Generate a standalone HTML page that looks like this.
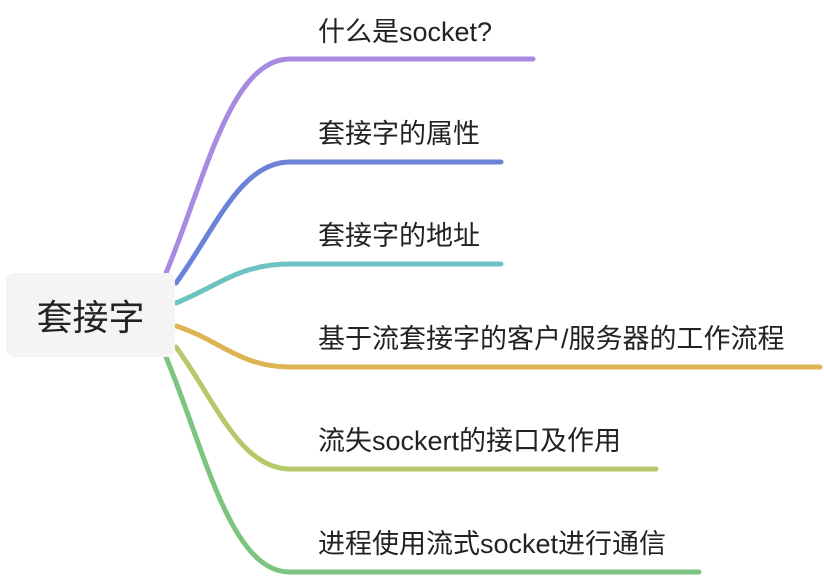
<!DOCTYPE html>
<html><head><meta charset="utf-8"><style>
body{margin:0;width:824px;height:576px;background:#fff;overflow:hidden;position:relative;font-family:"Liberation Sans","Noto Sans CJK SC",sans-serif;}
.root{position:absolute;left:6px;top:273px;width:169px;height:84px;background:#f4f4f4;border-radius:8px;font-size:36px;color:#222;display:flex;align-items:center;justify-content:center;}
.t{position:absolute;left:318px;font-size:27px;color:#222;white-space:nowrap;line-height:1;}
</style></head><body>
<svg width="824" height="576" style="position:absolute;left:0;top:0" fill="none" stroke-width="5" stroke-linecap="round">
<path d="M166 273 C 205 180, 230 59, 290 59 L 533 59" stroke="#a68be0"/>
<path d="M176 283 C 215 230, 240 162, 290 162 L 501 162" stroke="#6c81d8"/>
<path d="M176 303 C 220 285, 240 264, 290 264 L 501 264" stroke="#6cc3c1"/>
<path d="M176 326 C 220 340, 240 367, 290 367 L 820 367" stroke="#dcb552"/>
<path d="M176 347 C 215 400, 240 469, 290 469 L 656 469" stroke="#b5c96b"/>
<path d="M166 357 C 205 450, 230 572, 290 572 L 699 572" stroke="#7cc480"/>
</svg>
<div class="root">套接字</div>
<div class="t" style="top:19px">什么是socket?</div>
<div class="t" style="top:121px">套接字的属性</div>
<div class="t" style="top:223px">套接字的地址</div>
<div class="t" style="top:326px">基于流套接字的客户/服务器的工作流程</div>
<div class="t" style="top:428px">流失sockert的接口及作用</div>
<div class="t" style="top:531px">进程使用流式socket进行通信</div>
</body></html>
